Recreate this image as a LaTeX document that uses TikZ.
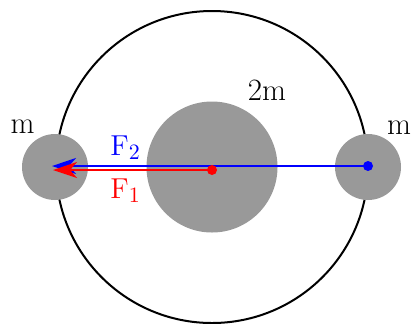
\documentclass[tikz,border=0pt]{standalone}
\usepackage{tikz}
\usetikzlibrary{arrows.meta}
\definecolor{cgris}{HTML}{999999}
\definecolor{cazul}{HTML}{0000FF}
\definecolor{crojo}{HTML}{FF0000}
\tikzset{
  masa/.style={circle, fill=cgris, inner sep=0pt},
  fuerza/.style={-{Stealth[length=12pt, width=8pt, inset=3.5pt]}, line width=1pt},
  punto/.style={circle, inner sep=0pt, minimum size=5pt},
  etq/.style={inner sep=0pt, anchor=base, font=\fontsize{15.5}{18}\selectfont},
}
\begin{document}
\begin{tikzpicture}[x=0.5pt, y=-0.5pt]
  \useasboundingbox (0,0) rectangle (411,323);
  \node[circle, draw, line width=1pt, inner sep=0pt, minimum size=156pt] (orbita) at (212,167) {};
  \node[masa, minimum size=65.5pt] (M) at (212,167) {};
  \node[masa, minimum size=33pt] (m1) at (55,167) {};
  \node[masa, minimum size=33pt] (m2) at (368,167) {};
  % puntos de aplicacion
  \coordinate (pb) at (368,166);
  \coordinate (tb) at (52,166);
  \coordinate (pr) at (212,170);
  \coordinate (tr) at (53,170);
  \draw[fuerza, cazul] (pb) -- (tb);
  \draw[fuerza, crojo] (pr) -- (tr);
  \node[punto, fill=cazul] (db) at (pb) {};
  \node[punto, fill=crojo] (dr) at (pr) {};
  % etiquetas
  \node[etq] (lm1) at (22.5,133) {m};
  \node[etq] (lm2) at (399,134) {m};
  \node[etq] (lM) at (267,100.5) {2m};
  \node[etq, anchor=base west, text=cazul] (lF2) at (110,155) {$\mathrm{F}_2$};
  \node[etq, anchor=base west, text=crojo] (lF1) at (110,198) {$\mathrm{F}_1$};
\end{tikzpicture}
\end{document}
